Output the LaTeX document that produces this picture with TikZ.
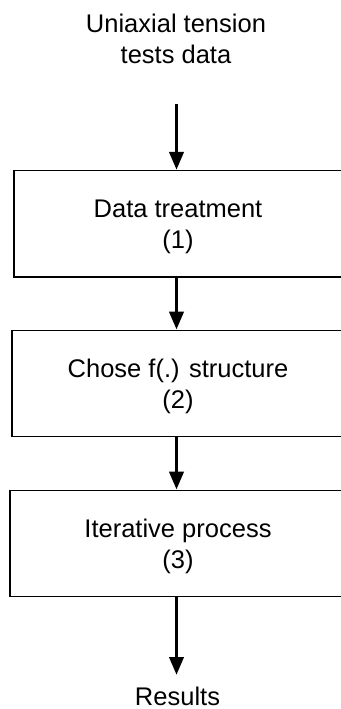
\documentclass[tikz,border=0pt]{standalone}
\usepackage{fontspec}
\setmainfont{Liberation Sans}
\usetikzlibrary{arrows.meta}
\begin{document}
\begin{tikzpicture}[x=1pt,y=-1pt,
  every node/.style={font=\fontsize{25.5}{31}\selectfont, align=center},
  stepbox/.style={draw, line width=1.2pt, rectangle, inner sep=0pt,
    minimum height=106.5pt, text depth=0pt},
  label/.style={inner sep=0pt, anchor=north},
  flow/.style={line width=3.8pt, -{Triangle[width=14pt,length=18pt]}}]
  \useasboundingbox (0,0) rectangle (340,709);

  % input and output texts
  \node[label] (input) at (176,13.8) {Uniaxial tension\\tests data};
  \node[label] (res) at (177.5,686.5) {Results};

  % process steps
  \node[stepbox, minimum width=328pt] (b1) at (178,223.75) {Data treatment\\(1)};
  \node[stepbox, minimum width=332pt] (b2) at (178,383.5) {Chose f(.) structure\\(2)};
  \node[stepbox, minimum width=336pt] (b3) at (178,543.5) {Iterative process\\(3)};

  % arrow ends away from the texts
  \coordinate (start) at (176.5,104);
  \coordinate (finish) at (176.5,675);

  % flow arrows
  \draw[flow] (start) -- ([xshift=-1.5pt]b1.north);
  \draw[flow] ([xshift=-1.5pt]b1.south) -- ([xshift=-1.5pt]b2.north);
  \draw[flow] ([xshift=-1.5pt]b2.south) -- ([xshift=-1.5pt]b3.north);
  \draw[flow] ([xshift=-1.5pt]b3.south) -- (finish);
\end{tikzpicture}
\end{document}
